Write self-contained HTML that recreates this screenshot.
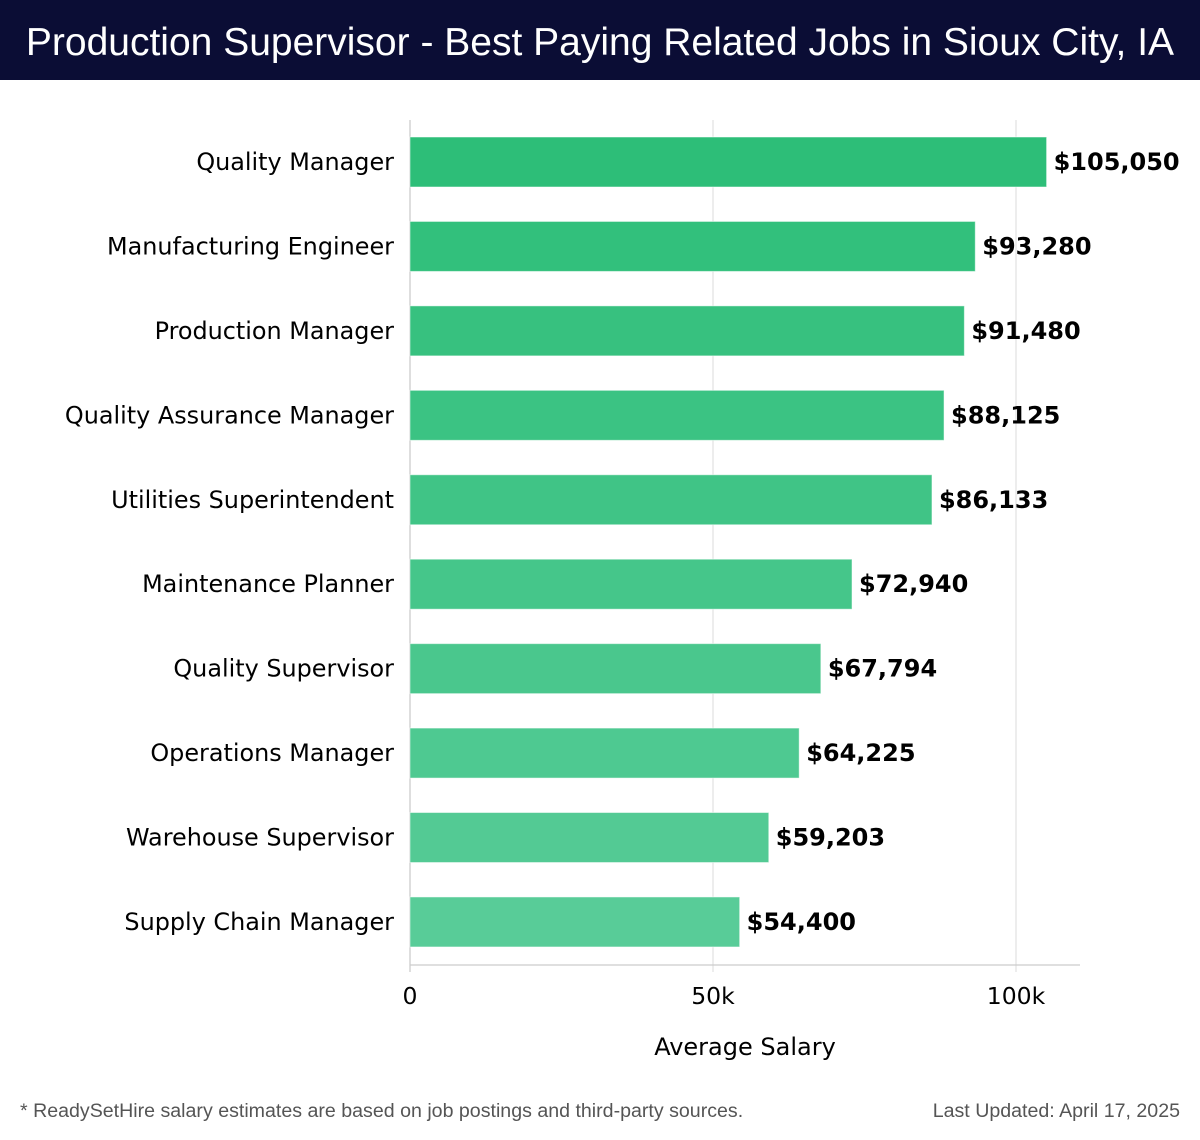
<!DOCTYPE html>
<html><head><meta charset="utf-8"><style>
body{margin:0;width:1200px;height:1140px;background:#fff;overflow:hidden;font-family:"DejaVu Sans","Liberation Sans",sans-serif}
#title{position:absolute;left:0;top:0;width:1200px;height:80px;background:#0b0d35;color:#fff;font-family:"Liberation Sans",sans-serif;font-size:39px;line-height:86px;text-align:center}
.foot{position:absolute;top:1100px;font-family:"Liberation Sans",sans-serif;font-size:19.6px;color:#555}
</style></head><body>
<div id="title">Production Supervisor - Best Paying Related Jobs in Sioux City, IA</div>
<svg id="chart" width="1200" height="1140" style="position:absolute;left:0;top:0"></svg>
<div class="foot" style="left:20px">* ReadySetHire salary estimates are based on job postings and third-party sources.</div>
<div class="foot" style="right:20px">Last Updated: April 17, 2025</div>
<script>
const categories=["Quality Manager","Manufacturing Engineer","Production Manager","Quality Assurance Manager","Utilities Superintendent","Maintenance Planner","Quality Supervisor","Operations Manager","Warehouse Supervisor","Supply Chain Manager"];
const values=[105050,93280,91480,88125,86133,72940,67794,64225,59203,54400];
const valueLabels=["$105,050","$93,280","$91,480","$88,125","$86,133","$72,940","$67,794","$64,225","$59,203","$54,400"];
const ticks=[0,50000,100000];
const tickLabels=["0","50k","100k"];
const NS="http://www.w3.org/2000/svg",svg=document.getElementById('chart');
const x=v=>410+v*303/50000;
const yc=i=>162+i*84.44;
function mk(t,a,p){const e=document.createElementNS(NS,t);for(const k in a)e.setAttribute(k,a[k]);(p||svg).appendChild(e);return e;}
ticks.forEach((t,i)=>{
 const g=mk('line',{x1:x(t),x2:x(t),y1:120,y2:972,stroke:i==0?'#ccc':'#e3e3e3','stroke-width':1.3});
 
 
 const l=mk('text',{x:x(t),y:1004,'text-anchor':'middle','font-size':23.5,fill:'#000'});l.textContent=tickLabels[i];
 
 
});
const ax=mk('line',{x1:410,x2:1080,y1:965,y2:965,stroke:'#ccc','stroke-width':1.3});


categories.forEach((c,i)=>{
 const f=i/(categories.length-1);
 const col=`rgb(${Math.round(45+f*43)},${Math.round(190+f*14)},${Math.round(120+f*32)})`;
 const r=mk('rect',{x:410,y:yc(i)-25,width:x(values[i])-410,height:50,fill:col,stroke:'rgba(255,255,255,0.5)','stroke-width':1});
 
 
 const l=mk('text',{x:394,y:yc(i)+8,'text-anchor':'end','font-size':23.9,fill:'#000'});l.textContent=c;
 
 
 const v=mk('text',{x:x(values[i])+7,y:yc(i)+8,'font-size':24,'font-weight':'bold',fill:'#000'});v.textContent=valueLabels[i];
 
 
});
const at=mk('text',{x:745,y:1055,'text-anchor':'middle','font-size':24,fill:'#000'});at.textContent="Average Salary";


</script>
</body></html>
